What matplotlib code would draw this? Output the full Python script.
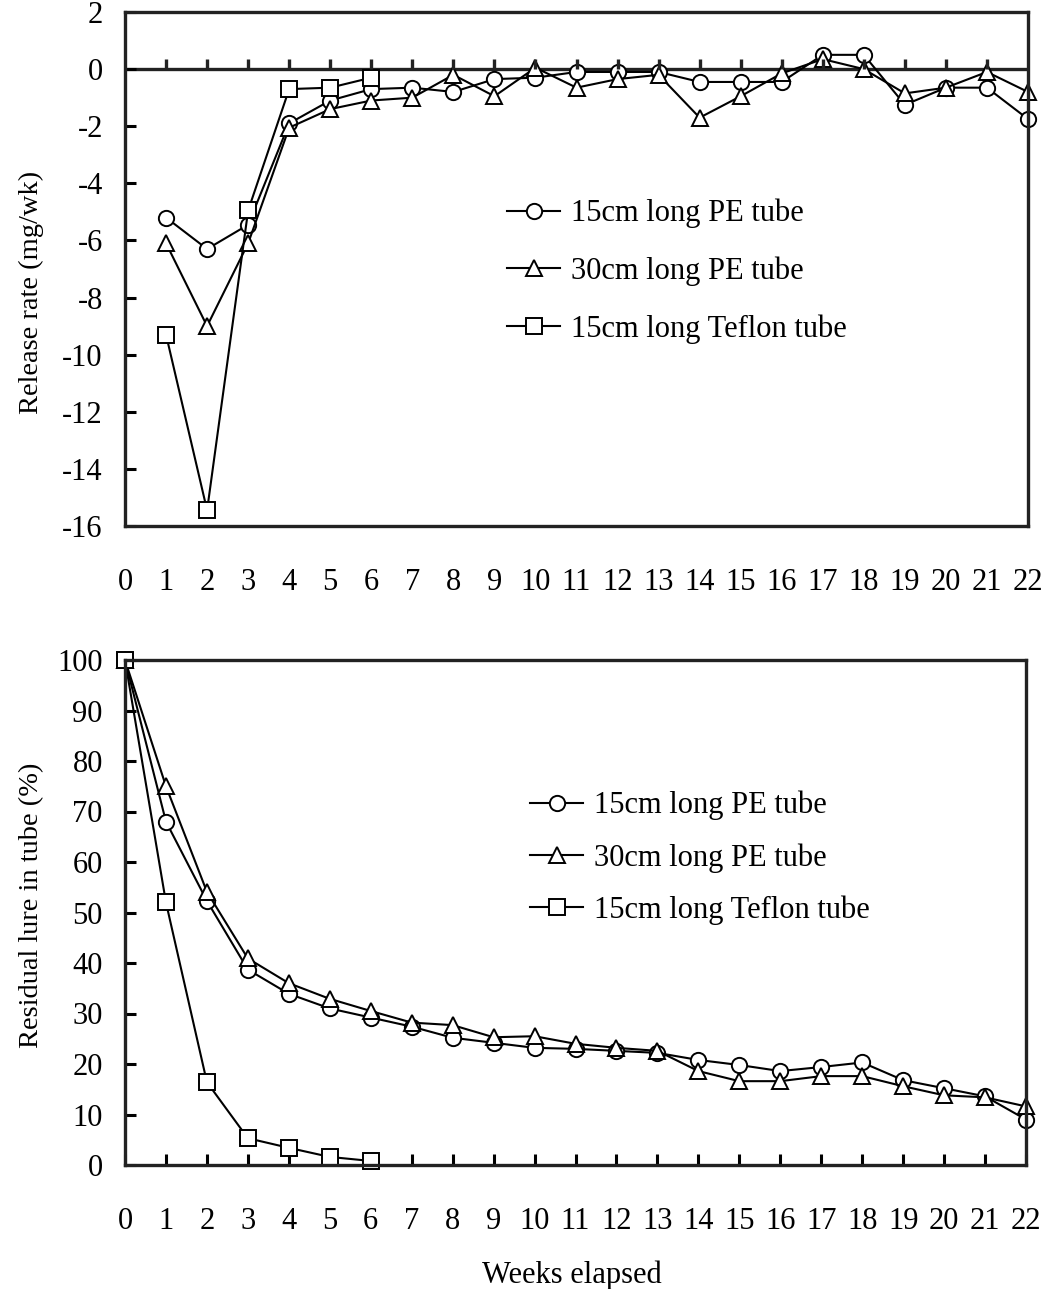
import numpy as np
import matplotlib
matplotlib.use('Agg')
import matplotlib.pyplot as plt

plt.rcParams['font.family'] = ['Liberation Serif', 'DejaVu Serif']
plt.rcParams['axes.unicode_minus'] = False

# Semanas
weeks = np.arange(0, 23)
weeks_rate = np.arange(1, 23)
weeks_teflon_rate = np.arange(1, 7)
weeks_teflon_res = np.arange(0, 7)

labels = ['15cm long PE tube', '30cm long PE tube', '15cm long Teflon tube']

# Taxa de liberação (mg/wk)
rate_pe15 = [-5.2, -6.3, -5.45, -1.9, -1.1, -0.7, -0.65, -0.8, -0.35, -0.3, -0.1,
             -0.1, -0.1, -0.45, -0.45, -0.45, 0.5, 0.5, -1.25, -0.65, -0.65, -1.75]
rate_pe30 = [-6.1, -9.0, -6.1, -2.05, -1.4, -1.1, -1.0, -0.2, -0.95, 0.05, -0.65,
             -0.35, -0.2, -1.7, -0.95, -0.15, 0.35, 0.0, -0.85, -0.65, -0.1, -0.8]
rate_teflon = [-9.3, -15.45, -4.95, -0.7, -0.65, -0.3]

# Resíduo no tubo (%)
res_pe15 = [100, 68, 52.3, 38.7, 33.9, 31.0, 29.2, 27.4, 25.2, 24.2, 23.2, 23.0,
            22.6, 22.2, 20.8, 19.8, 18.6, 19.4, 20.3, 16.8, 15.2, 13.6, 9.0]
res_pe30 = [100, 75, 54.1, 40.9, 36.0, 32.9, 30.5, 28.2, 27.7, 25.3, 25.5, 24.0,
            23.2, 22.6, 18.6, 16.6, 16.6, 17.6, 17.6, 15.6, 13.8, 13.4, 11.6]
res_teflon = [100, 52, 16.4, 5.3, 3.4, 1.6, 0.8]

W, H = 1058, 1289
fig = plt.figure(figsize=(W / 100, H / 100), dpi=100)

def box(l, t, r, b):
    return [l / W, 1 - b / H, (r - l) / W, (b - t) / H]

ax1 = fig.add_axes(box(125, 12, 1028, 526))
ax2 = fig.add_axes(box(125, 660, 1026, 1165))

mk = dict(color='black', lw=1.5, markersize=11, markerfacecolor='white',
          markeredgewidth=1.4, markeredgecolor='black', clip_on=False)

# Gráfico de cima
ax1.plot(weeks_rate, rate_pe15, marker='o', label=labels[0], **mk)
ax1.plot(weeks_rate, rate_pe30, marker='^', label=labels[1], **mk)
ax1.plot(weeks_teflon_rate, rate_teflon, marker='s', label=labels[2], **mk)
ax1.axhline(0, color='#222222', lw=2.4, zorder=1)
ax1.vlines(weeks[1:-1], 0, 0.35, color='#222222', lw=2.4)
ax1.set_xlim(0, 22)
ax1.set_ylim(-16, 2)
ax1.set_yticks(np.arange(-16, 3, 2))
ax1.set_xticks(weeks)
ax1.tick_params(axis='x', length=0, pad=30, labelsize=22)
ax1.tick_params(axis='y', direction='in', length=8, width=2.2, pad=16, labelsize=22)
ax1.set_ylabel('Release rate (mg/wk)', fontsize=20.5)
ax1.yaxis.set_label_coords(-0.09, 0.455)
ax1.legend(loc='upper left', bbox_to_anchor=(507 / W, 1 - 199 / H),
           bbox_transform=fig.transFigure, frameon=False, fontsize=22,
           handlelength=1.75, handletextpad=0.35, labelspacing=0.92, borderpad=0,
           borderaxespad=0)

# Gráfico de baixo
ax2.plot(weeks, res_pe15, marker='o', label=labels[0], **mk)
ax2.plot(weeks, res_pe30, marker='^', label=labels[1], **mk)
ax2.plot(weeks_teflon_res, res_teflon, marker='s', label=labels[2], **mk)
ax2.set_xlim(0, 22)
ax2.set_ylim(0, 100)
ax2.set_yticks(np.arange(0, 101, 10))
ax2.set_xticks(weeks)
ax2.tick_params(axis='x', direction='in', length=8, width=2.2, pad=30, labelsize=22)
ax2.tick_params(axis='y', direction='in', length=8, width=2.2, pad=16, labelsize=22)
ax2.set_ylabel('Residual lure in tube (%)', fontsize=20.5)
ax2.yaxis.set_label_coords(-0.09, 0.515)
ax2.legend(loc='upper left', bbox_to_anchor=(530 / W, 1 - 791 / H),
           bbox_transform=fig.transFigure, frameon=False, fontsize=22,
           handlelength=1.75, handletextpad=0.35, labelspacing=0.74, borderpad=0,
           borderaxespad=0)

for ax in (ax1, ax2):
    for s in ax.spines.values():
        s.set_linewidth(2.4)
        s.set_color('#222222')

fig.text(572 / W, 1 - 1275 / H, 'Weeks elapsed', ha='center', va='center', fontsize=22)

fig.savefig('out.png', dpi=100)
